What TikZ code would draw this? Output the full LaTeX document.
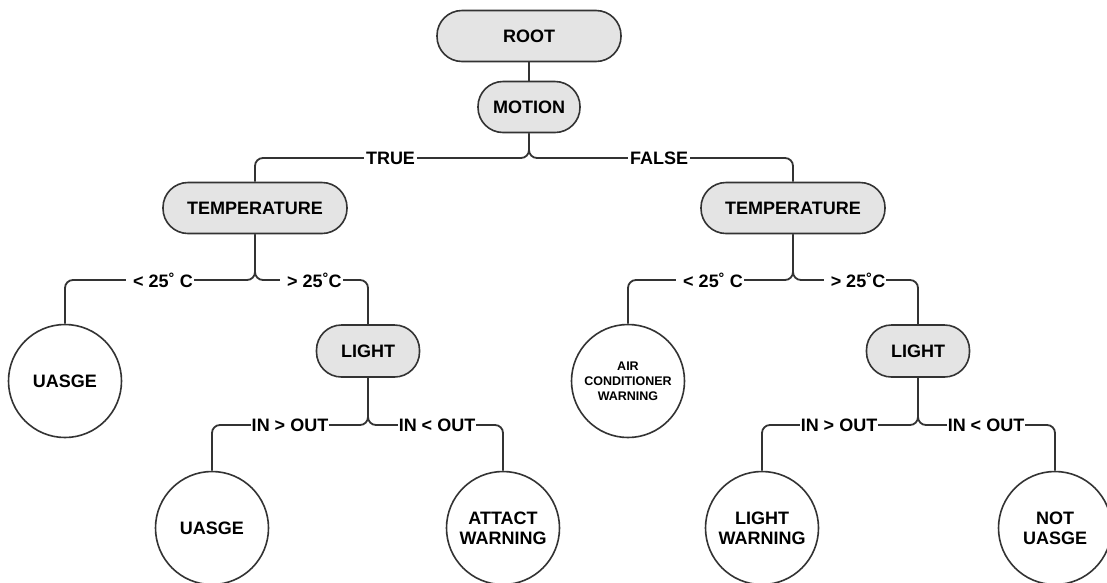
\documentclass[tikz,border=0pt]{standalone}
\usepackage{fontspec}
\setmainfont{Liberation Sans}
\definecolor{fillgray}{HTML}{E4E4E4}
\definecolor{linegray}{HTML}{333333}
\begin{document}
\begin{tikzpicture}[x=1pt,y=-1pt,
  every node/.style={font=\fontsize{18}{20}\selectfont\bfseries, text=black},
  pill/.style={draw=linegray, line width=1.6pt, fill=fillgray, rounded corners=25pt,
    minimum height=51pt, inner sep=0pt},
  leaf/.style={draw=linegray, line width=1.6pt, fill=white, circle, minimum size=113pt,
    inner sep=0pt, align=center},
  conn/.style={draw=linegray, line width=1.8pt, rounded corners=8pt},
  lbl/.style={fill=white, inner xsep=1pt, inner ysep=1pt}]
\useasboundingbox (0,0) rectangle (1107,582);
% pills
\node[pill, minimum width=184pt] (root) at (529,36) {ROOT};
\node[pill, minimum width=102pt] (motion) at (529,107) {MOTION};
\node[pill, minimum width=184pt] (tl) at (255,208) {TEMPERATURE};
\node[pill, minimum width=184pt] (tr) at (793,208) {TEMPERATURE};
\node[pill, minimum width=103pt, minimum height=52pt] (ll) at (368,351) {LIGHT};
\node[pill, minimum width=103pt, minimum height=52pt] (lr) at (918,351) {LIGHT};
% leaves
\node[leaf] (ul) at (65,381) {UASGE};
\node[leaf, font=\fontsize{12.5}{15}\selectfont\bfseries] (ac) at (628,381) {AIR\\CONDITIONER\\WARNING};
\node[leaf] (u2) at (212,528) {UASGE};
\node[leaf] (aw) at (503,528) {ATTACT\\WARNING};
\node[leaf] (lw) at (762,528) {LIGHT\\WARNING};
\node[leaf] (nu) at (1055,528) {NOT\\UASGE};
% junction levels
\coordinate (y1) at (0,158);
\coordinate (y2) at (0,280);
\coordinate (y3) at (0,425);
% connectors
\draw[conn] (root.south) -- (motion.north);
\draw[conn] (motion.south) -- (motion.south |- y1) -| (tl.north);
\draw[conn] (motion.south) -- (motion.south |- y1) -| (tr.north);
\draw[conn] (tl.south) -- (tl.south |- y2) -| (ul.north);
\draw[conn] (tl.south) -- (tl.south |- y2) -| (ll.north);
\draw[conn] (tr.south) -- (tr.south |- y2) -| (ac.north);
\draw[conn] (tr.south) -- (tr.south |- y2) -| (lr.north);
\draw[conn] (ll.south) -- (ll.south |- y3) -| (u2.north);
\draw[conn] (ll.south) -- (ll.south |- y3) -| (aw.north);
\draw[conn] (lr.south) -- (lr.south |- y3) -| (lw.north);
\draw[conn] (lr.south) -- (lr.south |- y3) -| (nu.north);
% labels
\node[lbl, inner xsep=2pt] (true) at (390.5,158) {TRUE};
\node[lbl, inner xsep=2pt] (false) at (659,158) {FALSE};
\node[lbl] (a1) at (160,280) {\hspace{6pt}< 25˚ C\hspace{8pt}};
\node[lbl] (a2) at (311.5,280) {\hspace{6pt}> 25˚C};
\node[lbl] (b1) at (710,280) {\hspace{6pt}< 25˚ C\hspace{8pt}};
\node[lbl] (b2) at (855,280) {\hspace{6pt}> 25˚C};
\node[lbl] (c1) at (290,425) {IN > OUT};
\node[lbl] (c2) at (437,425) {IN < OUT};
\node[lbl] (d1) at (839,425) {IN > OUT};
\node[lbl] (d2) at (986,425) {IN < OUT};
\end{tikzpicture}
\end{document}
